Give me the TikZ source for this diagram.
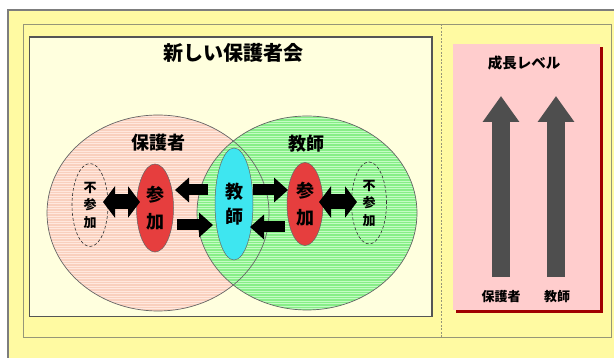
\documentclass[tikz,border=0pt]{standalone}
\usepackage{fontspec}
\setmainfont{Noto Sans CJK JP}
\usetikzlibrary{shapes.geometric,arrows.meta}
\definecolor{outeryellow}{RGB}{255,250,162}
\definecolor{outerline}{RGB}{125,125,125}
\definecolor{innerline}{RGB}{150,150,120}
\definecolor{cream}{RGB}{255,255,222}
\definecolor{panelline}{RGB}{85,85,85}
\definecolor{salmon}{RGB}{249,208,190}
\definecolor{salmonlt}{RGB}{255,232,222}
\definecolor{greenb}{RGB}{135,238,135}
\definecolor{greenlt}{RGB}{195,252,195}
\definecolor{redfill}{RGB}{230,62,62}
\definecolor{cyanfill}{RGB}{62,230,240}
\definecolor{pinkfill}{RGB}{255,205,205}
\definecolor{shadowred}{RGB}{160,0,0}
\definecolor{arrowgray}{RGB}{78,78,78}
\tikzset{
  circline/.style={draw=gray!80!black, line width=0.7pt},
  npbox/.style={ellipse, draw=black!80, densely dashed, line width=0.6pt, inner sep=0pt,
    minimum width=36pt, minimum height=83pt, align=center,
    font=\bfseries\fontsize{13}{17.5}\selectfont},
  joinbox/.style={ellipse, draw=black!60, line width=0.5pt, fill=redfill, inner sep=0pt,
    minimum width=37pt, minimum height=86pt, align=center,
    font=\bfseries\fontsize{18}{27}\selectfont},
  teachbox/.style={ellipse, draw=black!60, line width=0.5pt, fill=cyanfill, inner sep=0pt,
    minimum width=38pt, minimum height=112pt, align=center,
    font=\bfseries\fontsize{18}{25}\selectfont},
  bigarrow/.style={draw=black, line width=15pt, {Triangle[width=31pt,length=12pt]}-{Triangle[width=31pt,length=12pt]}},
  onearrow/.style={draw=black, line width=11pt, -{Triangle[width=24pt,length=14pt]}},
  growarrow/.style={draw=arrowgray, line width=18pt, -{Triangle[width=35pt,length=26pt]}},
  grouplabel/.style={font=\bfseries\fontsize{18}{18}\selectfont},
  smalllabel/.style={font=\bfseries\fontsize{13}{13}\selectfont},
}
\begin{document}
\begin{tikzpicture}[x=1pt,y=-1pt]
\useasboundingbox (0,0) rectangle (614,358);
\fill[white] (0,0) rectangle (614,358);
% outer yellow frame
\fill[outeryellow] (7.5,10.5) rectangle (614,358);
\draw[outerline, line width=2pt] (7.5,358) -- (7.5,10.5) -- (614,10.5);
\draw[innerline, line width=0.8pt] (23,24) rectangle (611.5,337);
\draw[innerline, line width=0.8pt, dash pattern=on 2pt off 1.5pt] (441.5,24) -- (441.5,337);
% left panel
\draw[panelline, fill=cream, line width=1.5pt] (29.5,37) rectangle (432,316.5);
\node[font=\bfseries\fontsize{20}{20}\selectfont] (title) at (233.5,53) {新しい保護者会};
% big circles
\begin{scope}
  \clip (158,213) ellipse [x radius=111, y radius=98];
  \fill[salmon] (45,113) rectangle (272,313);
  \foreach \y in {114,116.5,...,312} \draw[salmonlt, line width=1pt] (45,\y) -- (272,\y);
\end{scope}
\begin{scope}
  \clip (307,213) ellipse [x radius=110, y radius=97];
  \fill[greenb] (195,114) rectangle (419,312);
  \foreach \y in {114,116.5,...,312} \draw[greenlt, line width=1pt] (195,\y) -- (419,\y);
\end{scope}
\draw[circline] (158,213) ellipse [x radius=111, y radius=98];
\draw[circline] (307,213) ellipse [x radius=110, y radius=97];
\node[grouplabel] (plabel) at (158,143) {保護者};
\node[grouplabel] (tlabel) at (306,144) {教師};
% small ellipses
\node[npbox] (npL) at (90,205) {不\\参\\加};
\node[joinbox, minimum height=88pt] (joinL) at (155,208) {参\\加};
\node[teachbox] (teach) at (234,204) {教\\師};
\node[joinbox, minimum width=36pt, minimum height=83pt] (joinR) at (305,204) {参\\加};
\node[npbox, minimum width=35pt, minimum height=82pt] (npR) at (369,203) {不\\参\\加};
% connector end points
\coordinate (a1s) at (103,202); \coordinate (a1e) at (140,202);
\coordinate (a2s) at (208,190); \coordinate (a2e) at (175,190);
\coordinate (a3s) at (177,225); \coordinate (a3e) at (213,225);
\coordinate (a4s) at (253,190); \coordinate (a4e) at (288,190);
\coordinate (a5s) at (285,227); \coordinate (a5e) at (250,227);
\coordinate (a6s) at (319,202); \coordinate (a6e) at (357,202);
\draw[bigarrow] (a1s) -- (a1e);
\draw[onearrow] (a2s) -- (a2e);
\draw[onearrow] (a3s) -- (a3e);
\draw[onearrow] (a4s) -- (a4e);
\draw[onearrow] (a5s) -- (a5e);
\draw[bigarrow] (a6s) -- (a6e);
% right panel
\fill[shadowred] (456,47) rectangle (603,313);
\fill[pinkfill] (453,44) rectangle (600,310);
\node[font=\bfseries\fontsize{14.5}{14.5}\selectfont] (gtitle) at (524,63) {成長レベル};
\coordinate (g1s) at (501,277); \coordinate (g1e) at (501,96);
\coordinate (g2s) at (556,277); \coordinate (g2e) at (556,96);
\draw[growarrow] (g1s) -- (g1e);
\draw[growarrow] (g2s) -- (g2e);
\node[smalllabel] (gp) at (501,297) {保護者};
\node[smalllabel] (gt) at (557,297) {教師};
\end{tikzpicture}
\end{document}
